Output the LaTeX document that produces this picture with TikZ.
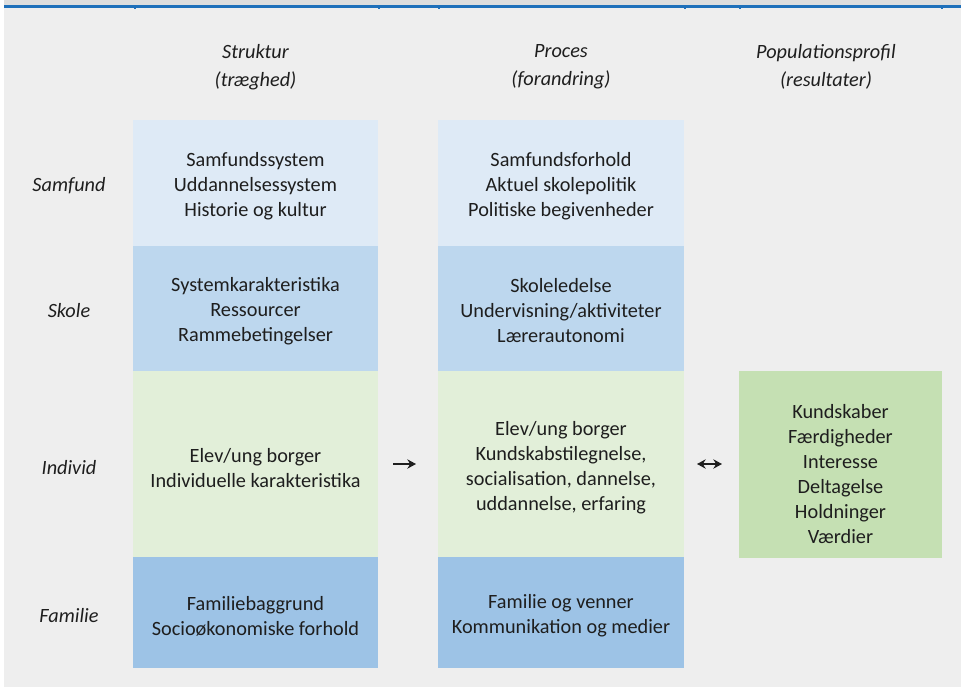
\documentclass[tikz,border=0pt]{standalone}
\usepackage{fontspec}
\setmainfont{Carlito}
\usetikzlibrary{arrows.meta}
\definecolor{bg}{HTML}{EEEEEE}
\definecolor{topgray}{HTML}{DEDEDE}
\definecolor{topblue}{HTML}{1F70BA}
\definecolor{rsam}{HTML}{DEEAF6}
\definecolor{rsko}{HTML}{BDD7EE}
\definecolor{rind}{HTML}{E2EFD9}
\definecolor{rfam}{HTML}{9DC3E6}
\definecolor{rpop}{HTML}{C5E0B3}
\definecolor{ink}{HTML}{1E1E1E}
\tikzset{
  box/.style={rectangle, inner sep=0pt, minimum width=183.75pt},
  txt/.style={inner sep=0pt, align=center, text=ink,
    font=\fontsize{15.2}{18.75}\selectfont},
  hdr/.style={align=center, text=ink, inner sep=0pt,
    font=\fontsize{15.2}{21}\selectfont\itshape},
  rowlbl/.style={text=ink, inner sep=0pt, font=\fontsize{15.2}{18.75}\selectfont\itshape},
  arr/.style={line width=1.7pt, color=ink},
  tick/.style={fill=topblue}
}
\begin{document}
\begin{tikzpicture}[x=0.75pt,y=-0.75pt]
\useasboundingbox (0,0) rectangle (961,687);
\fill[white] (0,0) rectangle (961,687);
\fill[bg] (4,0) rectangle (961,687);
\fill[topgray] (4,0) rectangle (961,5);
\fill[topblue] (4,5) rectangle (961,7.5);
\foreach \tx in {135,379,439,685,740,942} {\fill[tick] (\tx-1,7) rectangle (\tx+1,9);}
% headers
\node[hdr] (h1) at (255.5,67) {Struktur\\(træghed)};
\node[hdr] (h2) at (561,67) {Proces\\(forandring)};
\node[hdr] (h3) at (826,67) {Populationsprofil\\(resultater)};
% row labels
\node[rowlbl] (l1) at (69,186) {Samfund};
\node[rowlbl] (l2) at (69,311) {Skole};
\node[rowlbl] (l3) at (69,468) {Individ};
\node[rowlbl] (l4) at (69,616) {Familie};
% column 1 boxes
\node[box, fill=rsam, minimum height=94.5pt] (a1) at (255.5,182.5) {};
\node[box, fill=rsko, minimum height=93.75pt] (a2) at (255.5,308) {};
\node[box, fill=rind, minimum height=140.25pt] (a3) at (255.5,464) {};
\node[box, fill=rfam, minimum height=82.9pt] (a4) at (255.5,612.75) {};
% column 2 boxes
\node[box, fill=rsam, minimum height=94.5pt, minimum width=184.5pt] (b1) at (561,182.5) {};
\node[box, fill=rsko, minimum height=93.75pt, minimum width=184.5pt] (b2) at (561,308) {};
\node[box, fill=rind, minimum height=140.25pt, minimum width=184.5pt] (b3) at (561,464) {};
\node[box, fill=rfam, minimum height=82.9pt, minimum width=184.5pt] (b4) at (561,612.75) {};
% column 3 box
\node[box, fill=rpop, minimum height=140.25pt, minimum width=152.25pt] (c3) at (840.5,464) {};
% texts
\node[txt] (a1t) at (255.5,186) {Samfundssystem\\Uddannelsessystem\\Historie og kultur};
\node[txt] (a2t) at (255.5,311) {Systemkarakteristika\\Ressourcer\\Rammebetingelser};
\node[txt] (a3t) at (255.5,468) {Elev/ung borger\\Individuelle karakteristika};
\node[txt] (a4t) at (255.5,616) {Familiebaggrund\\Socioøkonomiske forhold};
\node[txt] (b1t) at (561,186) {Samfundsforhold\\Aktuel skolepolitik\\Politiske begivenheder};
\node[txt] (b2t) at (561,311) {Skoleledelse\\Undervisning/aktiviteter\\Lærerautonomi};
\node[txt] (b3t) at (561,468) {Elev/ung borger\\Kundskabstilegnelse,\\socialisation, dannelse,\\uddannelse, erfaring};
\node[txt] (b4t) at (561,616) {Familie og venner\\Kommunikation og medier};
\node[txt] (c3t) at (840.5,474) {Kundskaber\\Færdigheder\\Interesse\\Deltagelse\\Holdninger\\Værdier};
% arrows
\coordinate (p1) at (393,464);
\coordinate (p2) at (416,464);
\coordinate (q1) at (697,464);
\coordinate (q2) at (722,464);
\draw[arr, -{Stealth[length=6.5pt,width=7pt]}] (p1) -- (p2);
\draw[arr, {Stealth[length=6.5pt,width=7pt]}-{Stealth[length=6.5pt,width=7pt]}] (q1) -- (q2);
\end{tikzpicture}
\end{document}
